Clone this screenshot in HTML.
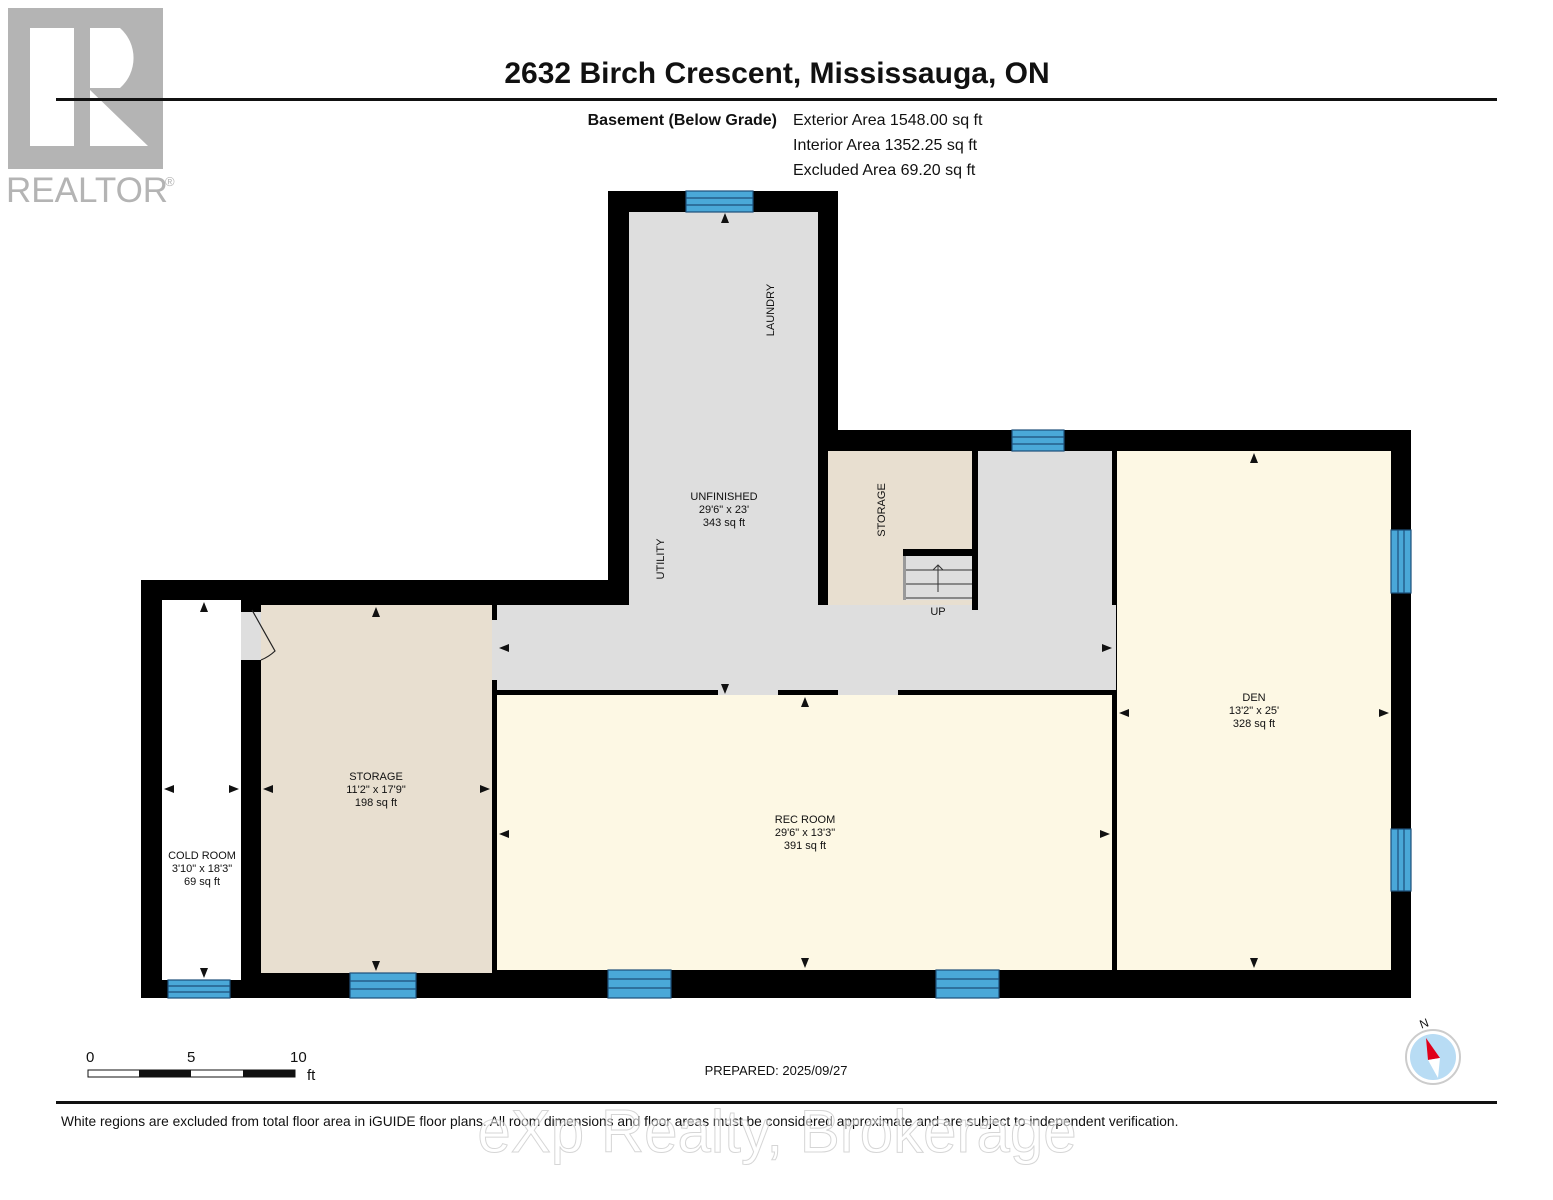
<!DOCTYPE html>
<html><head><meta charset="utf-8"><style>
html,body{margin:0;padding:0;background:#fff;}
svg{display:block;font-family:"Liberation Sans",Arial,sans-serif;}
</style></head><body>
<svg width="1553" height="1200" viewBox="0 0 1553 1200">
<!-- Realtor logo -->
<rect x="8" y="8" width="155" height="161" fill="#b4b4b4"/>
<rect x="30" y="28" width="44" height="118" fill="#fff"/>
<path d="M90 28 H120 A40 40 0 0 1 120 88 H90 Z" fill="#fff"/>
<path d="M90 90 L148 146 H90 Z" fill="#fff"/>
<text x="6" y="202" font-size="35" fill="#b4b4b4">REALTOR</text>
<text x="165" y="186" font-size="13" fill="#b4b4b4">®</text>

<text x="777" y="83" font-size="30" font-weight="bold" text-anchor="middle" fill="#111">2632 Birch Crescent, Mississauga, ON</text>
<rect x="56" y="98" width="1441" height="3" fill="#111"/>
<text x="777" y="125" font-size="16" font-weight="bold" text-anchor="end" fill="#111">Basement (Below Grade)</text>
<text x="793" y="125" font-size="16" fill="#111">Exterior Area 1548.00 sq ft</text>
<text x="793" y="150" font-size="16" fill="#111">Interior Area 1352.25 sq ft</text>
<text x="793" y="175" font-size="16" fill="#111">Excluded Area 69.20 sq ft</text>

<!-- outer walls -->
<polygon points="141,580 608,580 608,191 838,191 838,430 1411,430 1411,998 141,998" fill="#000"/>
<!-- rooms -->
<rect x="162" y="600" width="79" height="380" fill="#fff"/>
<rect x="261" y="605" width="231" height="368" fill="#e8dfd0"/>
<rect x="241" y="612" width="20" height="48" fill="#dedede"/>
<rect x="629" y="212" width="189" height="400" fill="#dedede"/>
<rect x="497" y="605" width="619" height="85" fill="#dedede"/>
<rect x="818" y="451" width="298" height="160" fill="#dedede"/>
<rect x="492" y="620" width="5" height="60" fill="#dedede"/>
<rect x="828" y="451" width="144" height="154" fill="#e8dfd0"/>
<rect x="818" y="440" width="10" height="165" fill="#000"/>
<rect x="972" y="451" width="6" height="159" fill="#000"/>
<rect x="903" y="549" width="72" height="7" fill="#000"/>
<rect x="903" y="556" width="69" height="44" fill="#dedede"/>
<g stroke="#333" stroke-width="1"><line x1="906" y1="570" x2="972" y2="570"/><line x1="906" y1="584" x2="972" y2="584"/><line x1="906" y1="598" x2="972" y2="598"/><line x1="938" y1="592" x2="938" y2="565"/><polyline points="933,570 938,565 943,570" fill="none"/></g>
<rect x="903" y="556" width="3" height="44" fill="#999"/>
<rect x="1112" y="451" width="5" height="154" fill="#000"/>
<rect x="1112" y="690" width="5" height="280" fill="#000"/>
<rect x="1117" y="451" width="274" height="519" fill="#fdf8e4"/>
<rect x="497" y="695" width="615" height="275" fill="#fdf8e4"/>
<rect x="497" y="690" width="615" height="5" fill="#000"/>
<rect x="718" y="690" width="60" height="5" fill="#dedede"/>
<rect x="838" y="690" width="60" height="5" fill="#dedede"/>
<!-- door arc -->
<path d="M252 610 L275 651 A45 45 0 0 1 261 660" fill="none" stroke="#222" stroke-width="1.2"/>

<!-- windows -->
<g fill="#4aa8d8" stroke="#1d4f7a" stroke-width="1.2">
<rect x="686" y="191" width="67" height="21"/><line x1="686" y1="198" x2="753" y2="198"/><line x1="686" y1="205" x2="753" y2="205"/>
<rect x="1012" y="430" width="52" height="21"/><line x1="1012" y1="437" x2="1064" y2="437"/><line x1="1012" y1="444" x2="1064" y2="444"/>
<rect x="1391" y="530" width="20" height="63"/><line x1="1398" y1="530" x2="1398" y2="593"/><line x1="1404" y1="530" x2="1404" y2="593"/>
<rect x="1391" y="829" width="20" height="62"/><line x1="1398" y1="829" x2="1398" y2="891"/><line x1="1404" y1="829" x2="1404" y2="891"/>
<rect x="168" y="980" width="62" height="18"/><line x1="168" y1="986" x2="230" y2="986"/><line x1="168" y1="992" x2="230" y2="992"/>
<rect x="350" y="973" width="66" height="25"/><line x1="350" y1="981" x2="416" y2="981"/><line x1="350" y1="989" x2="416" y2="989"/>
<rect x="608" y="970" width="63" height="28"/><line x1="608" y1="979" x2="671" y2="979"/><line x1="608" y1="988" x2="671" y2="988"/>
<rect x="936" y="970" width="63" height="28"/><line x1="936" y1="979" x2="999" y2="979"/><line x1="936" y1="988" x2="999" y2="988"/>
</g>

<!-- arrowheads -->
<g fill="#111">
<polygon points="725,213 721,223 729,223"/>
<polygon points="725,694 721,684 729,684"/>
<polygon points="204,602 200,612 208,612"/>
<polygon points="204,978 200,968 208,968"/>
<polygon points="376,607 372,617 380,617"/>
<polygon points="376,971 372,961 380,961"/>
<polygon points="164,789 174,785 174,793"/>
<polygon points="239,789 229,785 229,793"/>
<polygon points="263,789 273,785 273,793"/>
<polygon points="490,789 480,785 480,793"/>
<polygon points="499,648 509,644 509,652"/>
<polygon points="1112,648 1102,644 1102,652"/>
<polygon points="805,697 801,707 809,707"/>
<polygon points="805,968 801,958 809,958"/>
<polygon points="499,834 509,830 509,838"/>
<polygon points="1110,834 1100,830 1100,838"/>
<polygon points="1254,453 1250,463 1258,463"/>
<polygon points="1254,968 1250,958 1258,958"/>
<polygon points="1119,713 1129,709 1129,717"/>
<polygon points="1389,713 1379,709 1379,717"/>
</g>

<!-- labels -->
<g font-size="11" fill="#111" text-anchor="middle">
<text x="724" y="500">UNFINISHED</text><text x="724" y="513">29'6" x 23'</text><text x="724" y="526">343 sq ft</text>
<text x="376" y="780">STORAGE</text><text x="376" y="793">11'2" x 17'9"</text><text x="376" y="806">198 sq ft</text>
<text x="202" y="859">COLD ROOM</text><text x="202" y="872">3'10" x 18'3"</text><text x="202" y="885">69 sq ft</text>
<text x="805" y="823">REC ROOM</text><text x="805" y="836">29'6" x 13'3"</text><text x="805" y="849">391 sq ft</text>
<text x="1254" y="701">DEN</text><text x="1254" y="714">13'2" x 25'</text><text x="1254" y="727">328 sq ft</text>
<text x="938" y="615">UP</text>
<text transform="translate(774,310) rotate(-90)">LAUNDRY</text>
<text transform="translate(664,559) rotate(-90)">UTILITY</text>
<text transform="translate(885,510) rotate(-90)">STORAGE</text>
</g>

<!-- scale -->
<g font-size="15" fill="#111">
<text x="86" y="1062">0</text><text x="187" y="1062">5</text><text x="290" y="1062">10</text><text x="307" y="1080">ft</text>
</g>
<rect x="88" y="1070" width="207" height="7" fill="#fff" stroke="#111" stroke-width="1"/>
<rect x="139" y="1070" width="52" height="7" fill="#111"/>
<rect x="243" y="1070" width="52" height="7" fill="#111"/>
<text x="776" y="1075" font-size="13" text-anchor="middle" fill="#111">PREPARED: 2025/09/27</text>

<!-- compass -->
<circle cx="1433" cy="1057" r="27" fill="#fff" stroke="#ccc" stroke-width="2"/>
<circle cx="1433" cy="1057" r="23" fill="#b8dcf4"/>
<polygon points="1426,1038 1440,1058 1428,1060" fill="#e0001a"/>
<polygon points="1440,1058 1428,1060 1438,1078" fill="#fff"/>
<text x="1420" y="1029" font-size="12" fill="#111" transform="rotate(-20 1420 1025)">N</text>

<rect x="56" y="1101" width="1441" height="3" fill="#111"/>
<text x="61" y="1126" font-size="13.75" fill="#111">White regions are excluded from total floor area in iGUIDE floor plans. All room dimensions and floor areas must be considered approximate and are subject to independent verification.</text>
<text x="777" y="1152" font-size="60" text-anchor="middle" fill="#fff" fill-opacity="0.55" stroke="#bbb" stroke-width="1" stroke-opacity="0.6">eXp Realty, Brokerage</text>
</svg>
</body></html>
